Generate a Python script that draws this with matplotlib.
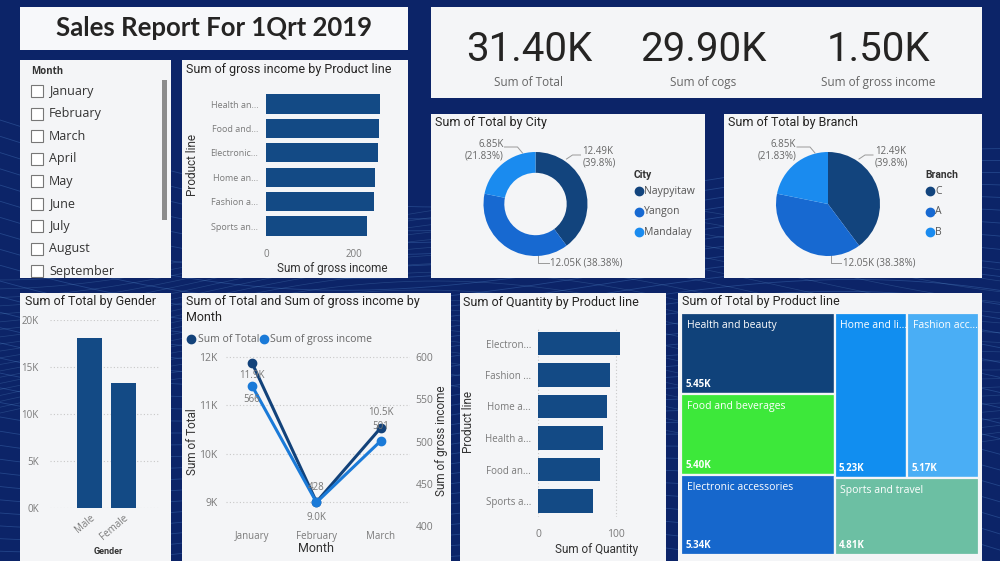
import matplotlib
matplotlib.use('Agg')
import matplotlib.pyplot as plt
from matplotlib.patches import Rectangle
from matplotlib.ticker import FuncFormatter
import numpy as np

# ---------------- Data ----------------
kpi_values = [31.40, 29.90, 1.50]
kpi_labels = ['Sum of Total', 'Sum of cogs', 'Sum of gross income']
months = ['January', 'February', 'March', 'April', 'May', 'June', 'July', 'August', 'September']
gi_products = ['Health an...', 'Food and...', 'Electronic...', 'Home an...', 'Fashion a...', 'Sports an...']
gi_values = [259, 257, 255, 248, 245, 230]
cities = ['Naypyitaw', 'Yangon', 'Mandalay']
city_totals = [12.49, 12.05, 6.85]
city_pcts = [39.8, 38.38, 21.83]
branches = ['C', 'A', 'B']
branch_totals = [12.49, 12.05, 6.85]
branch_pcts = [39.8, 38.38, 21.83]
genders = ['Male', 'Female']
gender_totals = [18100, 13300]
line_months = ['January', 'February', 'March']
month_total = [11880, 9000, 10540]
month_gross = [566, 428, 501]
qty_products = ['Electron...', 'Fashion ...', 'Home a...', 'Health a...', 'Food an...', 'Sports a...']
qty_values = [105, 92, 89, 83, 80, 71]
tm_products = ['Health and beauty', 'Food and beverages', 'Electronic accessories',
               'Home and li...', 'Fashion acc...', 'Sports and travel']
tm_values = [5.45, 5.40, 5.34, 5.23, 5.17, 4.81]

# ---------------- Style ----------------
W, H = 1000, 561
NAVY = '#0c2468'
PANEL = '#f4f5f7'
BAR = '#134a85'
TITLE_C = '#252423'
TICK_C = '#7a7a7a'
LAB_C = '#333333'
TF = 'Roboto'
BF = 'Open Sans'
PIE_COLORS = ['#12447d', '#1769d1', '#1a8bef']
TM_COLORS = ['#10427a', '#3de83a', '#1667cc', '#118ef0', '#4aaef5', '#6cbfa3']
DARK_LINE = '#12427a'
LIGHT_LINE = '#1a7ad8'

fig = plt.figure(figsize=(W / 100, H / 100), dpi=100)
fig.patch.set_facecolor(NAVY)

bg = fig.add_axes([0, 0, 1, 1])
bg.set_xlim(0, W)
bg.set_ylim(H, 0)
bg.axis('off')

# decorative background lines
xs = np.linspace(0, W, 500)
for k in range(36):
    ys = 120 + k * 13 + 55 * np.sin(xs / 230.0 + k * 0.06) + 0.08 * xs
    bg.plot(xs, ys, color='#5f9be0', alpha=0.28, lw=0.6, zorder=1)
for k in range(20):
    ys = -60 + k * 9 + 40 * np.cos(xs / 180.0 + k * 0.08)
    bg.plot(xs, ys + 300, color='#7fc0f0', alpha=0.2, lw=0.5, zorder=1)


def panel(x0, y0, x1, y1, color=PANEL):
    bg.add_patch(Rectangle((x0, y0), x1 - x0, y1 - y0, facecolor=color,
                           edgecolor='none', zorder=2))


def T(x, y, s, size=8, color=LAB_C, ha='left', va='center', weight='normal',
      family=BF, rot=0, **kw):
    return bg.text(x, y, s, fontsize=size, color=color, ha=ha, va=va,
                   fontweight=weight, family=family, rotation=rot, zorder=6, **kw)


def add_ax(x0, y0, x1, y1):
    a = fig.add_axes([x0 / W, 1 - y1 / H, (x1 - x0) / W, (y1 - y0) / H])
    a.set_facecolor('none')
    return a


# ---------------- Panels ----------------
panel(20, 7, 408, 50, '#f7f8fa')
panel(431, 7, 982, 98)
panel(20, 60, 171, 278)
panel(182, 60, 408, 278)
panel(431, 114, 705, 278)
panel(724, 114, 982, 278)
panel(20, 293, 171, 561)
panel(182, 293, 451, 561)
panel(460, 293, 666, 561)
panel(678, 293, 982, 561)

# ---------------- Title ----------------
T(214, 28, 'Sales Report For 1Qrt 2019', size=18.5, color='#252423', ha='center',
  weight='bold', family='Lato')

# ---------------- KPI cards ----------------
for cx, v, lab in zip([529, 703, 878], kpi_values, kpi_labels):
    T(cx, 49, f'{v:.2f}K', size=29, color='#252423', ha='center', family=TF)
    T(cx, 82, lab, size=8.5, color='#666666', ha='center', family=BF)

# ---------------- Month slicer ----------------
sl = add_ax(20, 60, 171, 278)
sl.set_xlim(20, 171)
sl.set_ylim(278, 60)
sl.axis('off')
sl.text(31, 71, 'Month', fontsize=7, color=LAB_C, fontweight='bold', family=BF,
        va='center', clip_on=True)
for i, m in enumerate(months):
    yy = 91 + i * 22.5
    sl.add_patch(Rectangle((31, yy - 6), 12, 12, facecolor='white', edgecolor='#777777',
                           lw=0.8, clip_on=True))
    sl.text(49, yy, m, fontsize=9, color='#333333', family=BF, va='center', clip_on=True)
sl.add_patch(Rectangle((162, 80), 5, 140, facecolor='#8c8c8c', edgecolor='none'))

# ---------------- Gross income by product line ----------------
T(186, 69, 'Sum of gross income by Product line', size=9, color=TITLE_C, family=TF)
ax = add_ax(266, 91.8, 400, 238.2)
ax.barh(range(len(gi_values)), gi_values, height=0.78, color=BAR)
ax.set_ylim(len(gi_values) - 0.5, -0.5)
ax.set_xlim(0, (400 - 266) / 88 * 200)
ax.set_yticks(range(len(gi_values)))
ax.set_yticklabels(gi_products, fontsize=6.5, color=TICK_C, family=BF)
ax.set_xticks([0, 200])
ax.set_xticklabels(['0', '200'], fontsize=7, color=TICK_C, family=BF)
ax.tick_params(axis='y', length=0, pad=5.5)
ax.tick_params(axis='x', length=0, pad=8)
for s in ax.spines.values():
    s.set_visible(False)
T(332, 268, 'Sum of gross income', size=8.5, color=LAB_C, ha='center', family=TF)
T(192, 165, 'Product line', size=8.5, color=LAB_C, ha='center', family=TF, rot=90)


# ---------------- Donut / Pie ----------------
def pie_chart(cx, cy, totals, pcts, names, legend_title, lx, donut, title, tx):
    T(tx, 122, title, size=9, color=TITLE_C, family=TF)
    r = 52
    a = add_ax(cx - r, cy - r, cx + r, cy + r)
    wp = dict(edgecolor='none')
    if donut:
        wp['width'] = 0.4
    a.pie(totals, colors=PIE_COLORS, startangle=90, counterclock=False, radius=1,
          wedgeprops=wp)
    a.set_xlim(-1, 1)
    a.set_ylim(-1, 1)
    a.set_aspect('equal')
    lc = '#9a9a9a'
    bg.plot([cx + 31, cx + 37, cx + 45], [cy - 45, cy - 49, cy - 49], color=lc, lw=0.7, zorder=6)
    T(cx + 47, cy - 47, f'{totals[0]:.2f}K\n({pcts[0]:g}%)', size=7, color='#666666',
      family=BF, linespacing=1.1)
    bg.plot([cx + 2.5, cx + 2.5, cx + 13], [cy + 50, cy + 59, cy + 59], color=lc, lw=0.7, zorder=6)
    T(cx + 15, cy + 59, f'{totals[1]:.2f}K ({pcts[1]:g}%)', size=7, color='#666666', family=BF)
    bg.plot([cx - 31, cx - 18, cx - 13], [cy - 57, cy - 57, cy - 51], color=lc, lw=0.7, zorder=6)
    T(cx - 32, cy - 54, f'{totals[2]:.2f}K\n({pcts[2]:g}%)', size=7, color='#666666',
      family=BF, ha='right', linespacing=1.1, multialignment='right')
    T(lx, 175, legend_title, size=7.5, color=LAB_C, weight='bold', family=TF)
    for i, (n, c) in enumerate(zip(names, PIE_COLORS)):
        yy = 191 + i * 20.5
        bg.plot([lx + 5], [yy], marker='o', ms=6, color=c, zorder=6)
        T(lx + 10, yy, n, size=7.5, color='#555555', family=BF)


pie_chart(535.5, 204, city_totals, city_pcts, cities, 'City', 634, True,
          'Sum of Total by City', 435)
pie_chart(828, 204, branch_totals, branch_pcts, branches, 'Branch', 925, False,
          'Sum of Total by Branch', 728)

# ---------------- Gender ----------------
T(25, 301, 'Sum of Total by Gender', size=9, color=TITLE_C, family=TF)
ax = add_ax(50, 320, 160, 508)
ax.bar(range(len(genders)), gender_totals, width=0.75, color=BAR, zorder=3)
ax.set_xlim(-1.18, 2.1)
ax.set_ylim(0, 20000)
ax.set_yticks([0, 5000, 10000, 15000, 20000])
ax.yaxis.set_major_formatter(FuncFormatter(lambda v, p: f'{v / 1000:.0f}K'))
ax.yaxis.grid(True, linestyle=(0, (1, 2)), color='#c8c8c8', lw=0.8)
ax.set_axisbelow(True)
for lbl in ax.get_yticklabels():
    lbl.set_fontsize(7)
    lbl.set_color(TICK_C)
    lbl.set_family(BF)
ax.set_xticks(range(len(genders)))
ax.set_xticklabels(genders, fontsize=7, color=TICK_C, family=BF, rotation=40,
                   ha='right', rotation_mode='anchor')
ax.tick_params(axis='y', length=0, pad=8)
ax.tick_params(axis='x', length=0, pad=3)
for s in ax.spines.values():
    s.set_visible(False)
T(108, 551, 'Gender', size=6.5, color=LAB_C, ha='center', weight='bold', family=TF)

# ---------------- Line chart ----------------
T(186, 301, 'Sum of Total and Sum of gross income by', size=9, color=TITLE_C, family=TF)
T(186, 317, 'Month', size=9, color=TITLE_C, family=TF)
bg.plot([191], [339], marker='o', ms=6, color=DARK_LINE, zorder=6)
T(197.5, 339.5, 'Sum of Total', size=7.5, color='#666666', family=BF)
bg.plot([264], [339], marker='o', ms=6, color=LIGHT_LINE, zorder=6)
T(270.5, 339.5, 'Sum of gross income', size=7.5, color='#666666', family=BF)

ax = add_ax(226, 345, 410, 530)
ax2 = ax.twinx()
ax2.set_facecolor('none')
xi = np.arange(len(line_months))
ax.plot(xi, month_total, color=DARK_LINE, lw=2.2, marker='o', ms=6, zorder=4)
ax2.plot(xi, month_gross, color=LIGHT_LINE, lw=2.2, marker='o', ms=6, zorder=4)
ax.set_xlim(-0.403, 2.45)
ax.set_ylim(8420, 12248)
ax2.set_ylim(395.3, 614.2)
ax.set_yticks([9000, 10000, 11000, 12000])
ax.yaxis.set_major_formatter(FuncFormatter(lambda v, p: f'{v / 1000:.0f}K'))
ax2.set_yticks([400, 450, 500, 550, 600])
ax.yaxis.grid(True, linestyle=(0, (1, 2)), color='#c8c8c8', lw=0.8)
ax.set_xticks(xi)
ax.set_xticklabels(line_months, fontsize=7, color=TICK_C, family=BF)
for lbl in ax.get_yticklabels() + ax2.get_yticklabels():
    lbl.set_fontsize(7.5)
    lbl.set_color(TICK_C)
    lbl.set_family(BF)
ax.tick_params(axis='y', length=0, pad=6)
ax2.tick_params(axis='y', length=0, pad=4)
ax.tick_params(axis='x', length=0, pad=1)
for a in (ax, ax2):
    for s in a.spines.values():
        s.set_visible(False)
tot_off = [-9.5, -11, 11]
gro_off = [-10, 11, 10]
for i in range(len(line_months)):
    ax.annotate(f'{month_total[i] / 1000:.1f}K', (xi[i], month_total[i]), xytext=(0, tot_off[i]),
                textcoords='offset points', ha='center', va='center', fontsize=7,
                color='#777777', family=BF, zorder=5)
    ax2.annotate(f'{month_gross[i]:.0f}', (xi[i], month_gross[i]), xytext=(0, gro_off[i]),
                 textcoords='offset points', ha='center', va='center', fontsize=7,
                 color='#777777', family=BF, zorder=5)
T(192, 442, 'Sum of Total', size=8.5, color=LAB_C, ha='center', family=TF, rot=90)
T(442, 441, 'Sum of gross income', size=8.5, color=LAB_C, ha='center', family=TF, rot=90)
T(316, 549, 'Month', size=9, color=LAB_C, ha='center', family=TF)

# ---------------- Quantity ----------------
T(463, 302, 'Sum of Quantity by Product line', size=9, color=TITLE_C, family=TF)
ax = add_ax(538, 327.75, 650, 516.75)
ax.barh(range(len(qty_values)), qty_values, height=0.76, color=BAR, zorder=3)
ax.set_ylim(len(qty_values) - 0.5, -0.5)
ax.set_xlim(0, 112 / 0.78)
ax.set_xticks([0, 100])
ax.xaxis.grid(True, linestyle=(0, (1, 2)), color='#c8c8c8', lw=0.8)
ax.set_axisbelow(True)
ax.set_yticks(range(len(qty_values)))
ax.set_yticklabels(qty_products, fontsize=7, color=TICK_C, family=BF)
ax.set_xticklabels(['0', '100'], fontsize=7.5, color=TICK_C, family=BF)
ax.tick_params(axis='y', length=0, pad=5)
ax.tick_params(axis='x', length=0, pad=9)
for s in ax.spines.values():
    s.set_visible(False)
T(597, 550, 'Sum of Quantity', size=8.5, color=LAB_C, ha='center', family=TF)
T(469, 422, 'Product line', size=8.5, color=LAB_C, ha='center', family=TF, rot=90)

# ---------------- Treemap ----------------
T(682, 301, 'Sum of Total by Product line', size=9, color=TITLE_C, family=TF)
tm = add_ax(681, 313, 979, 555)
tm.set_xlim(0, 1)
tm.set_ylim(1, 0)
tm.axis('off')
total = sum(tm_values)
left = tm_values[:3]
right = tm_values[3:]
wl = sum(left) / total
rects = []
yc = 0
for v in left:
    h = v / sum(left)
    rects.append((0, yc, wl, h))
    yc += h
htop = (right[0] + right[1]) / sum(right)
wh = (1 - wl) * right[0] / (right[0] + right[1])
rects.append((wl, 0, wh, htop))
rects.append((wl + wh, 0, 1 - wl - wh, htop))
rects.append((wl, htop, 1 - wl, 1 - htop))
for (x0, y0, w, h), name, v, c in zip(rects, tm_products, tm_values, TM_COLORS):
    tm.add_patch(Rectangle((x0, y0), w, h, facecolor=c, edgecolor='#f4f5f7', lw=1.6))
    tm.annotate(name, (x0, y0), xytext=(4, -5), textcoords='offset points', ha='left',
                va='top', fontsize=7.5, color='white', family=BF)
    tm.annotate(f'{v:.2f}K', (x0, y0 + h), xytext=(3, 3), textcoords='offset points',
                ha='left', va='bottom', fontsize=7, color='white', fontweight='bold', family=BF)

fig.savefig('out.png', dpi=100, facecolor=fig.get_facecolor())
